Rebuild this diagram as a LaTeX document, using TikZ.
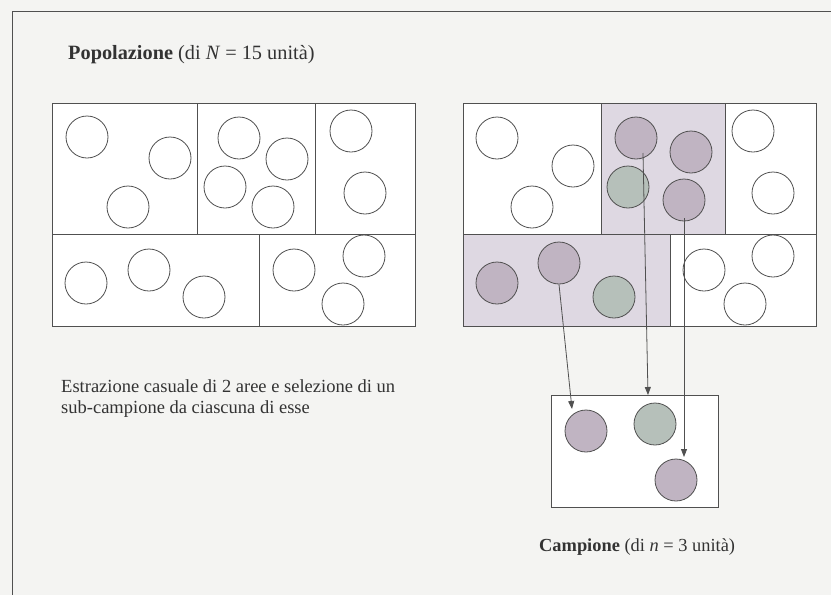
\documentclass[tikz,border=0pt]{standalone}
\usepackage{fontspec}
\setmainfont{Liberation Serif}
\usetikzlibrary{arrows.meta}
\definecolor{pagebg}{RGB}{244,244,242}
\definecolor{ink}{RGB}{80,80,80}
\definecolor{cellfill}{RGB}{222,216,226}
\definecolor{dotfill}{RGB}{192,180,194}
\definecolor{dotgreen}{RGB}{182,192,186}
\begin{document}
\begin{tikzpicture}[x=1pt,y=-1pt,
  cellline/.style={draw=ink,line width=0.8pt},
  unit/.style={circle,draw=ink,line width=0.8pt,minimum size=42pt,inner sep=0pt,fill=white},
  chosen/.style={unit,fill=dotfill},
  chosengreen/.style={unit,fill=dotgreen},
  link/.style={draw=ink,line width=0.8pt,-{Triangle[length=8pt,width=6pt]}},
  lbl/.style={inner sep=0pt,anchor=west,text=black!80}]
\fill[pagebg] (0,0) rectangle (831,595);
\useasboundingbox (0,0) rectangle (831,595);
% frame
\draw[ink,line width=1pt] (12,595) -- (12,11) -- (831,11);
% title
\node[lbl,font=\fontsize{20.3}{22}\selectfont] (title) at (68,55) {\textbf{Popolazione} (di \textit{N} = 15 unità)};
% left grid
\filldraw[cellline,fill=white] (52,103) rectangle (415,326);
\draw[cellline] (52,234) -- (415,234) (197,103) -- (197,234) (315,103) -- (315,234) (259,234) -- (259,326);
\node[unit] (l1) at (87,137) {};
\node[unit] (l2) at (170,158) {};
\node[unit] (l3) at (128,207) {};
\node[unit] (l4) at (239,138) {};
\node[unit] (l5) at (287,159) {};
\node[unit] (l6) at (225,187) {};
\node[unit] (l7) at (273,207) {};
\node[unit] (l8) at (351,131) {};
\node[unit] (l9) at (365,193) {};
\node[unit] (l10) at (86,283) {};
\node[unit] (l11) at (149,270) {};
\node[unit] (l12) at (204,297) {};
\node[unit] (l13) at (294,270) {};
\node[unit] (l14) at (364,256) {};
\node[unit] (l15) at (343,304) {};
% right grid
\filldraw[cellline,fill=white] (463,103) rectangle (816,326);
\fill[cellfill] (601,103) rectangle (725,234);
\fill[cellfill] (463,234) rectangle (670,326);
\draw[cellline] (463,103) rectangle (816,326);
\draw[cellline] (463,234) -- (816,234) (601,103) -- (601,234) (725,103) -- (725,234) (670,234) -- (670,326);
\node[unit] (r1) at (497,138) {};
\node[unit] (r2) at (573,166) {};
\node[unit] (r3) at (532,207) {};
\node[chosen] (m1) at (636,138) {};
\node[chosen] (m2) at (691,152) {};
\node[chosengreen] (m3) at (628,187) {};
\node[chosen] (m4) at (684,200) {};
\node[unit] (r8) at (753,131) {};
\node[unit] (r9) at (773,193) {};
\node[chosen] (b1) at (497,283) {};
\node[chosen] (b2) at (559,263) {};
\node[chosengreen] (b3) at (614,297) {};
\node[unit] (r13) at (704,270) {};
\node[unit] (r14) at (773,256) {};
\node[unit] (r15) at (745,304) {};
% caption left
\node[lbl,font=\fontsize{18.5}{21}\selectfont,align=left,anchor=north west] (note) at (61,379) {Estrazione casuale di 2 aree e selezione di un\\sub-campione da ciascuna di esse};
% sample box
\node[draw=ink,line width=0.8pt,fill=white,minimum width=167pt,minimum height=112pt,inner sep=0pt] (sample) at (634.5,451) {};
\node[chosen] (s1) at (586,431) {};
\node[chosengreen] (s2) at (655,424) {};
\node[chosen] (s3) at (676,480) {};
% arrows
\coordinate (a1e) at (572,409);
\coordinate (a2s) at (643,153);
\coordinate (a2e) at (648,395);
\coordinate (a3s) at (684,218);
\coordinate (a3e) at (684,457);
\draw[link] (b2.south) -- (a1e);
\draw[link] (a2s) -- (a2e);
\draw[link] (a3s) -- (a3e);
% caption bottom
\node[lbl,font=\fontsize{18.4}{20}\selectfont] (camp) at (539,547) {\textbf{Campione} (di \textit{n} = 3 unità)};
\end{tikzpicture}
\end{document}
